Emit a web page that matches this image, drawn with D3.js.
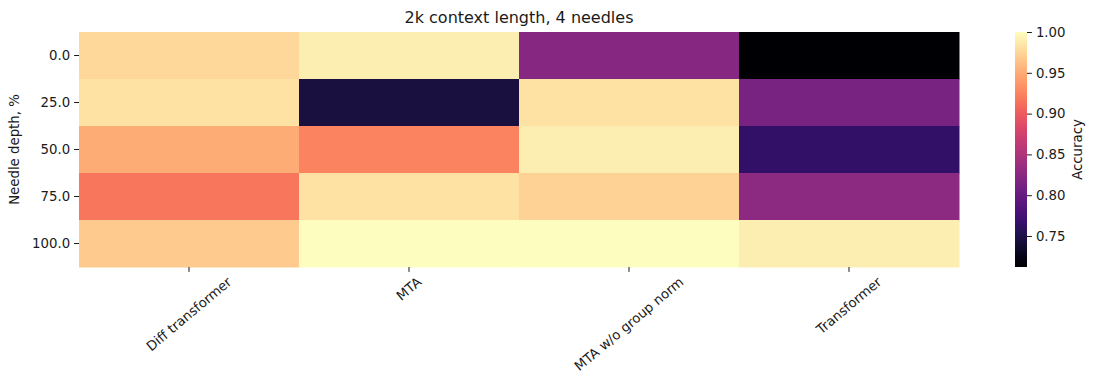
<!DOCTYPE html>
<html>
<head>
<meta charset="utf-8">
<script src="https://cdn.jsdelivr.net/npm/d3@7"></script>
<style>
  body { margin: 0; background: #fff; }
  text { font-family: "DejaVu Sans", sans-serif; fill: #1a1a1a; }
</style>
</head>
<body>
<svg id="chart" width="1096" height="390"></svg>
<script>
const models = ['Diff transformer', 'MTA', 'MTA w/o group norm', 'Transformer'];
const depths = ['0.0', '25.0', '50.0', '75.0', '100.0'];
// accuracy per depth row, one value per model
const diffTransformer = [0.977, 0.983, 0.950, 0.917, 0.968];
const mta = [0.990, 0.745, 0.925, 0.983, 1.000];
const mtaNoNorm = [0.823, 0.983, 0.990, 0.972, 1.000];
const transformer = [0.712, 0.813, 0.764, 0.827, 0.990];
const cbarTicks = [0.75, 0.80, 0.85, 0.90, 0.95, 1.00];
const vmin = 0.712, vmax = 1.0;

const series = [diffTransformer, mta, mtaNoNorm, transformer];
const cells = [];
depths.forEach((d, i) => models.forEach((m, j) => cells.push({ depth: d, model: m, value: series[j][i] })));

const svg = d3.select('#chart');
const mLeft = 79, mRight = 959, mTop = 32, mBottom = 267;
const fs = '13.3px';

const x = d3.scaleBand().domain(models).range([mLeft, mRight]);
const y = d3.scaleBand().domain(depths).range([mTop, mBottom]);
const color = d3.scaleSequential(d3.interpolateMagma).domain([vmin, vmax]);

svg.append('g')
  .selectAll('rect')
  .data(cells)
  .enter()
  .append('rect')
    .attr('x', d => x(d.model))
    .attr('y', d => y(d.depth))
    .attr('width', x.bandwidth() + 0.5)
    .attr('height', y.bandwidth() + 0.5)
    .attr('fill', d => color(d.value));

// y axis
const yAxis = svg.append('g')
  .attr('transform', `translate(${mLeft},0)`)
  .call(d3.axisLeft(y).tickSize(4.9).tickPadding(4));
yAxis.select('.domain').remove();
yAxis.selectAll('text').style('font-size', fs).style('font-family', '"DejaVu Sans", sans-serif').attr('fill', '#1a1a1a');
yAxis.selectAll('line').attr('stroke', '#1a1a1a');

// x axis
const xAxis = svg.append('g')
  .attr('transform', `translate(0,${mBottom})`)
  .call(d3.axisBottom(x).tickSize(4.9));
xAxis.select('.domain').remove();
xAxis.selectAll('line').attr('stroke', '#1a1a1a');
xAxis.selectAll('text').remove();

const ang = 40 * Math.PI / 180;
svg.append('g')
  .selectAll('text')
  .data(models)
  .enter()
  .append('text')
    .text(d => d)
    .style('font-size', fs)
    .attr('text-anchor', 'middle')
    .attr('dominant-baseline', 'central')
    .attr('transform', function (d) {
      const w = this.getComputedTextLength();
      const h = 13;
      const bh = w * Math.sin(ang) + h * Math.cos(ang);
      return `translate(${x(d) + x.bandwidth() / 2},${mBottom + 8 + bh / 2}) rotate(-40)`;
    });

svg.append('text')
  .attr('transform', `translate(19,${(mTop + mBottom) / 2}) rotate(-90)`)
  .attr('text-anchor', 'middle')
  .style('font-size', fs)
  .text('Needle depth, %');

svg.append('text')
  .attr('x', (mLeft + mRight) / 2)
  .attr('y', 23)
  .attr('text-anchor', 'middle')
  .style('font-size', '16px')
  .text('2k context length, 4 needles');

// colorbar
const cbx = 1015, cbw = 12;
const cy = d3.scaleLinear().domain([vmin, vmax]).range([mBottom, mTop]);
const defs = svg.append('defs');
const grad = defs.append('linearGradient')
  .attr('id', 'cbar')
  .attr('x1', 0).attr('y1', 1).attr('x2', 0).attr('y2', 0);
d3.range(0, 1.0001, 0.05).forEach(t => {
  grad.append('stop').attr('offset', t).attr('stop-color', d3.interpolateMagma(t));
});
svg.append('rect')
  .attr('x', cbx).attr('y', mTop)
  .attr('width', cbw).attr('height', mBottom - mTop)
  .attr('fill', 'url(#cbar)');

const cAxis = svg.append('g')
  .attr('transform', `translate(${cbx + cbw},0)`)
  .call(d3.axisRight(cy).tickValues(cbarTicks).tickFormat(d3.format('.2f')).tickSize(4.9).tickPadding(4));
cAxis.select('.domain').remove();
cAxis.selectAll('text').style('font-size', fs).style('font-family', '"DejaVu Sans", sans-serif').attr('fill', '#1a1a1a');
cAxis.selectAll('line').attr('stroke', '#1a1a1a');

svg.append('text')
  .attr('transform', `translate(1082,${(mTop + mBottom) / 2}) rotate(-90)`)
  .attr('text-anchor', 'middle')
  .style('font-size', fs)
  .text('Accuracy');
</script>
</body>
</html>
